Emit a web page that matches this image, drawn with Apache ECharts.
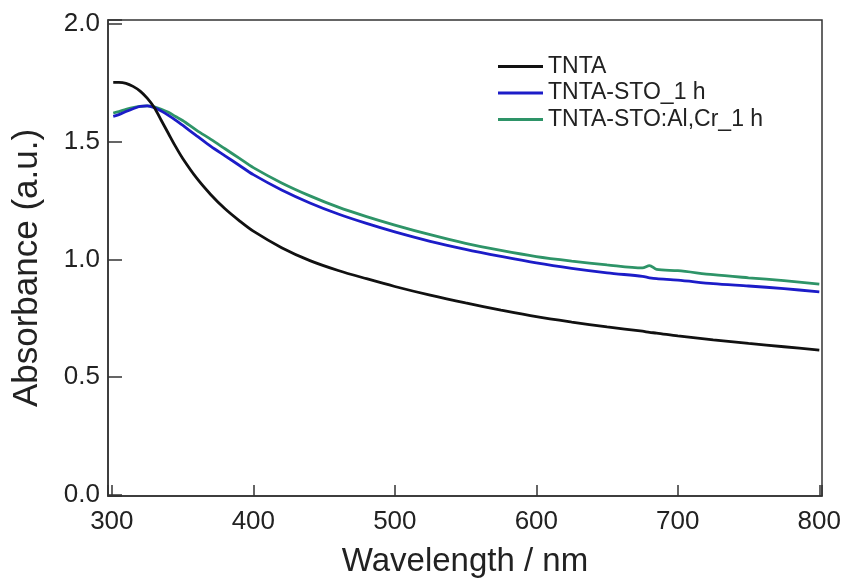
<!DOCTYPE html>
<html><head><meta charset="utf-8">
<script src="https://cdn.jsdelivr.net/npm/echarts@6/dist/echarts.min.js"></script>
<style>html,body{margin:0;padding:0;background:#fff}#c{width:846px;height:583px}</style>
</head><body><div id="c"></div>
<script>
const wavelengths = [301,305,310,315,320,325,330,335,340,345,350,360,370,380,390,400,420,440,460,480,500,525,550,575,600,625,650,675,680,685,700,725,750,775,800];
const tnta = [1.752,1.752,1.748,1.735,1.715,1.685,1.645,1.59,1.535,1.48,1.43,1.345,1.275,1.215,1.165,1.12,1.05,0.995,0.953,0.918,0.885,0.848,0.815,0.785,0.757,0.734,0.713,0.695,0.69,0.687,0.675,0.658,0.643,0.629,0.615];
const tntaSto = [1.608,1.615,1.628,1.64,1.65,1.652,1.645,1.63,1.612,1.592,1.57,1.525,1.48,1.44,1.4,1.36,1.295,1.24,1.193,1.153,1.117,1.077,1.043,1.013,0.985,0.962,0.943,0.928,0.922,0.918,0.912,0.897,0.887,0.876,0.862];
const tntaStoAlCr = [1.622,1.628,1.637,1.645,1.65,1.652,1.648,1.638,1.625,1.607,1.59,1.548,1.51,1.47,1.43,1.39,1.325,1.27,1.222,1.182,1.146,1.105,1.068,1.038,1.012,0.993,0.977,0.964,0.974,0.958,0.952,0.935,0.922,0.91,0.895];
const seriesNames = ['TNTA','TNTA-STO_1 h','TNTA-STO:Al,Cr_1 h'];
const seriesColors = ['#111111','#1c1cc8','#2e9468'];
const xTickLabels = [300,400,500,600,700,800];
const yTickLabels = ['0.0','0.5','1.0','1.5','2.0'];

const pairs = v => wavelengths.map((w,i)=>[w,v[i]]);
const font = 'Liberation Sans, Arial, sans-serif';
const chart = echarts.init(document.getElementById('c'));
chart.setOption({
  animation:false,
  grid:{left:108,top:20,right:24,bottom:86,show:true,borderColor:'#333',borderWidth:1.5,backgroundColor:'transparent'},
  legend:{
    orient:'vertical',left:493,top:50,itemWidth:45,itemHeight:3,itemGap:3.5,icon:'rect',
    textStyle:{fontFamily:font,fontSize:23,color:'#222',padding:[0,0,0,0]},
    data:seriesNames
  },
  xAxis:{
    type:'value',min:297.3,max:801.9,splitNumber:5,
    name:'Wavelength / nm',nameLocation:'middle',nameGap:49,
    nameTextStyle:{fontFamily:font,fontSize:33,color:'#222'},
    axisLine:{onZero:false,lineStyle:{color:'#333',width:1.5}},
    axisTick:{inside:true,length:11,lineStyle:{color:'#333',width:1.5}},
    axisLabel:{fontFamily:font,fontSize:26,color:'#222',margin:13,showMinLabel:true,showMaxLabel:true,
      formatter:v=>{const r=Math.round(v);return (Math.abs(v-r)<1e-6 && xTickLabels.includes(r))?String(r):'';}},
    splitLine:{show:false}
  },
  yAxis:{
    type:'value',min:-0.005,max:2.017,splitNumber:4,
    name:'Absorbance (a.u.)',nameLocation:'middle',nameGap:63,
    nameTextStyle:{fontFamily:font,fontSize:35,color:'#222',padding:[0,20,0,0]},
    axisLine:{lineStyle:{color:'#333',width:1.5}},
    axisTick:{inside:true,length:14,lineStyle:{color:'#333',width:1.5}},
    axisLabel:{fontFamily:font,fontSize:26,color:'#222',margin:8,
      formatter:v=>{const s=v.toFixed(1);return (Math.abs(v*2-Math.round(v*2))<1e-6 && yTickLabels.includes(s))?s:'';}},
    splitLine:{show:false}
  },
  series:[tnta,tntaSto,tntaStoAlCr].map((d,i)=>({
    name:seriesNames[i],type:'line',data:pairs(d),showSymbol:false,smooth:0.3,
    lineStyle:{color:seriesColors[i],width:2.8},itemStyle:{color:seriesColors[i]},z:10-i
  }))
});
</script></body></html>
